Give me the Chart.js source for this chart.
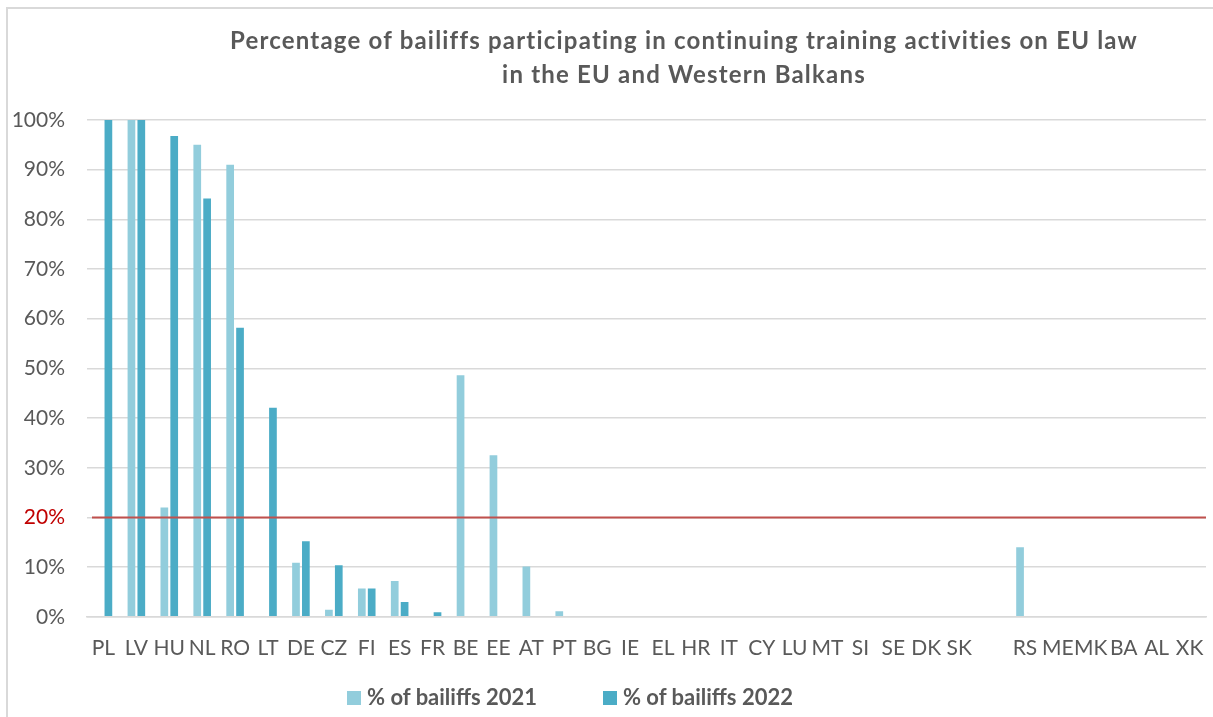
<!DOCTYPE html>
<html>
<head>
<meta charset="utf-8">
<script src="https://cdn.jsdelivr.net/npm/chart.js@4"></script>
<style>
  html, body { margin: 0; padding: 0; background: #fff; }
  #wrap { position: relative; width: 1213px; height: 717px; overflow: hidden; }
  #frame { position: absolute; left: 6px; top: 7px; right: -10px; bottom: -10px;
           border-left: 2px solid #d9d9d9; border-top: 2px solid #d9d9d9; pointer-events: none; }
  #title { position: absolute; left: 155px; right: 0; top: 23px; text-align: center;
           font: bold 24px Lato, sans-serif; letter-spacing: 1.2px; color: #595959; line-height: 34px; }
  #legend { position: absolute; left: 0; width: 1140px; top: 683px; display: flex;
            justify-content: center; gap: 66px; font: bold 22px Lato, sans-serif; color: #595959; line-height: 28px; }
  #legend span.box { display: inline-block; width: 14px; height: 14px; margin-right: 6px; vertical-align: 0px; }
  canvas { position: absolute; left: 0; top: 0; }
</style>
</head>
<body>
<div id="wrap">
  <canvas id="chart" width="1213" height="717"></canvas>
  <div id="frame"></div>
  <div id="title">Percentage of bailiffs participating in continuing training activities on EU law<br>in the EU and Western Balkans</div>
  <div id="legend"></div>
</div>
<script>
// Countries (empty slot separates EU from Western Balkans)
const countries = ['PL', 'LV', 'HU', 'NL', 'RO', 'LT', 'DE', 'CZ', 'FI', 'ES', 'FR', 'BE', 'EE', 'AT', 'PT',
  'BG', 'IE', 'EL', 'HR', 'IT', 'CY', 'LU', 'MT', 'SI', 'SE', 'DK', 'SK', '', 'RS', 'ME', 'MK', 'BA', 'AL', 'XK'];

// % of bailiffs 2021
const bailiffs2021 = [null, 100, 22, 95, 91, null, 10.9, 1.4, 5.7, 7.2, null, 48.6, 32.5, 10.1, 1.1,
  null, null, null, null, null, null, null, null, null, null, null, null, null, 14, null, null, null, null, null];

// % of bailiffs 2022
const bailiffs2022 = [100, 100, 96.8, 84.2, 58.2, 42.1, 15.2, 10.4, 5.7, 3.0, 0.9, null, null, null, null,
  null, null, null, null, null, null, null, null, null, null, null, null, null, null, null, null, null, null, null];

const seriesNames = ['% of bailiffs 2021', '% of bailiffs 2022'];
const seriesColors = ['#92CDDC', '#4BACC6'];

// y axis ticks 0% .. 100%
const yTicks = [0, 10, 20, 30, 40, 50, 60, 70, 80, 90, 100];
const threshold = 20;

const thresholdLine = {
  id: 'thresholdLine',
  afterDatasetsDraw(chart) {
    const ctx = chart.ctx;
    const area = chart.chartArea;
    const y = chart.scales.y.getPixelForValue(threshold);
    ctx.save();
    ctx.strokeStyle = '#C0504D';
    ctx.lineWidth = 2;
    ctx.beginPath();
    ctx.moveTo(area.left + 5, y);
    ctx.lineTo(area.right, y);
    ctx.stroke();
    ctx.restore();
  }
};

const chart = new Chart(document.getElementById('chart').getContext('2d'), {
  type: 'bar',
  data: {
    labels: countries,
    datasets: [
      { label: seriesNames[0], data: bailiffs2021, backgroundColor: seriesColors[0] },
      { label: seriesNames[1], data: bailiffs2022, backgroundColor: seriesColors[1] }
    ]
  },
  options: {
    responsive: false,
    animation: false,
    layout: { padding: { top: 120, left: 12, right: 7, bottom: 37 } },
    datasets: { bar: { categoryPercentage: 0.6, barPercentage: 0.78 } },
    plugins: {
      legend: { display: false },
      title: { display: false },
      tooltip: { enabled: false }
    },
    scales: {
      x: {
        afterFit(axis) { axis.paddingLeft = 0; axis.paddingRight = 0; },
        grid: { display: false, drawTicks: false },
        border: { display: true, color: '#d9d9d9', width: 1.5 },
        ticks: {
          autoSkip: false, maxRotation: 0, padding: 19,
          color: '#595959', font: { family: 'Lato', size: 21 }
        }
      },
      y: {
        min: 0, max: 100,
        afterBuildTicks(axis) { axis.ticks = yTicks.map(v => ({ value: v })); },
        afterFit(axis) { axis.width = 75; },
        grid: { color: '#d9d9d9', lineWidth: 1.5, drawTicks: false },
        border: { display: false },
        ticks: {
          padding: 22,
          color: ctx => ctx.tick.value === threshold ? '#C00000' : '#595959',
          font: { family: 'Lato', size: 21 },
          callback: v => v + '%'
        }
      }
    }
  },
  plugins: [thresholdLine]
});

// Legend built from the chart's datasets
const legend = document.getElementById('legend');
chart.data.datasets.forEach(ds => {
  const item = document.createElement('div');
  item.innerHTML = '<span class="box" style="background:' + ds.backgroundColor + '"></span>' + ds.label;
  legend.appendChild(item);
});
</script>
</body>
</html>
